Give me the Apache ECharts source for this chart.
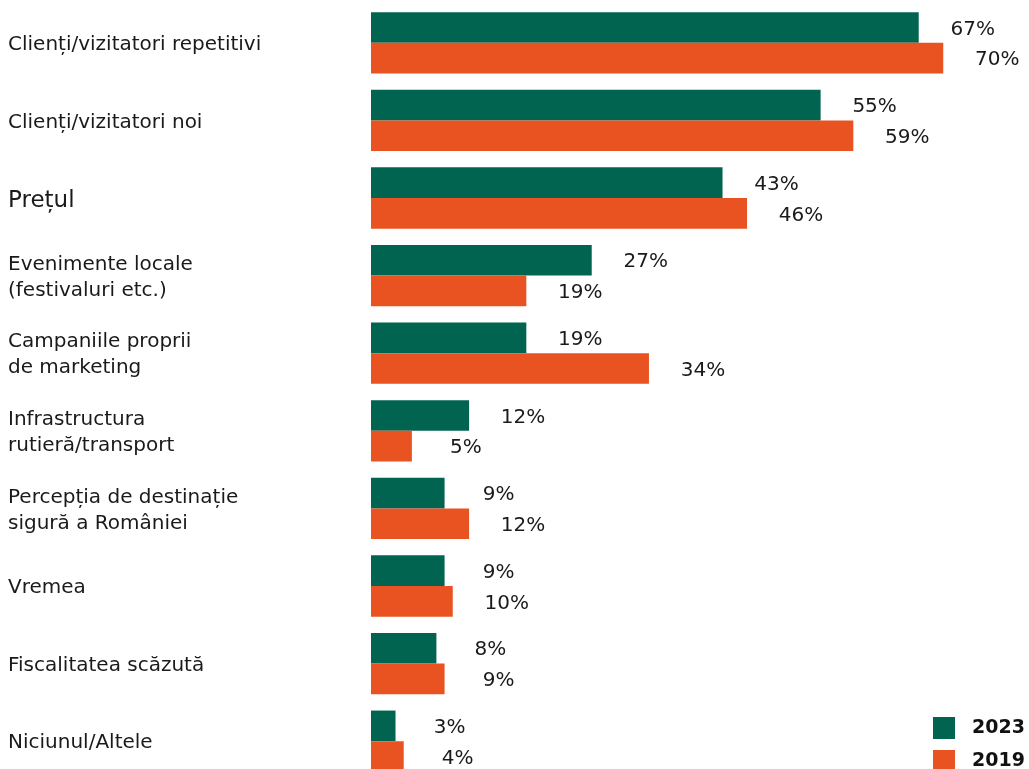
<!DOCTYPE html>
<html>
<head>
<meta charset="utf-8">
<script src="https://cdn.jsdelivr.net/npm/echarts@6/dist/echarts.min.js"></script>
<style>html,body{margin:0;padding:0;background:#fff;}#chart{width:1029px;height:769px;}</style>
</head>
<body>
<div id="chart"></div>
<script>
const categories = [
  'Clienți/vizitatori repetitivi',
  'Clienți/vizitatori noi',
  'Prețul',
  'Evenimente locale\n(festivaluri etc.)',
  'Campaniile proprii\nde marketing',
  'Infrastructura\nrutieră/transport',
  'Percepția de destinație\nsigură a României',
  'Vremea',
  'Fiscalitatea scăzută',
  'Niciunul/Altele'
];
const seriesNames = ['2023', '2019'];
const values2023 = [67, 55, 43, 27, 19, 12, 9, 9, 8, 3];
const values2019 = [70, 59, 46, 19, 34, 5, 12, 10, 9, 4];

const FONT = '"DejaVu Sans", sans-serif';
const chart = echarts.init(document.getElementById('chart'));
const labelCfg = {
  show: true,
  position: 'right',
  distance: 54,
  align: 'center',
  formatter: '{c}%',
  color: '#1a1a1a',
  fontSize: 20,
  fontFamily: FONT,
  offset: [0, 2]
};
const legendBase = {
  orient: 'vertical',
  left: 928,
  itemWidth: 22,
  itemHeight: 22,
  icon: 'rect',
  textStyle: { fontSize: 19, fontWeight: 'bold', color: '#111', fontFamily: FONT, padding: [0, 0, 0, 12] }
};
chart.setOption({
  animation: false,
  backgroundColor: '#ffffff',
  grid: { left: 371, width: 654, top: 4, height: 776, outerBoundsMode: 'none', containLabel: false },
  legend: [
    Object.assign({}, legendBase, { top: 712, data: [seriesNames[0]] }),
    Object.assign({}, legendBase, { top: 745, data: [seriesNames[1]] })
  ],
  xAxis: {
    type: 'value', min: 0, max: 80,
    show: false
  },
  yAxis: {
    type: 'category',
    data: categories,
    inverse: true,
    axisLine: { show: false },
    axisTick: { show: false },
    axisLabel: {
      align: 'left',
      margin: 363,
      fontSize: 20,
      lineHeight: 26,
      color: '#1a1a1a',
      fontFamily: FONT,
      padding: [4, 0, 0, 0],
      formatter: function (v) { return v === 'Prețul' ? '{big|' + v + '}' : v; },
      rich: { big: { fontSize: 23, fontFamily: FONT, color: '#1a1a1a', padding: [2, 0, 0, 0] } }
    }
  },
  series: [
    { name: seriesNames[0], type: 'bar', data: values2023, barGap: '0%', barCategoryGap: '21%',
      itemStyle: { color: '#006450' }, label: labelCfg },
    { name: seriesNames[1], type: 'bar', data: values2019, barGap: '0%', barCategoryGap: '21%',
      itemStyle: { color: '#E85321' }, label: labelCfg }
  ]
});
</script>
</body>
</html>
